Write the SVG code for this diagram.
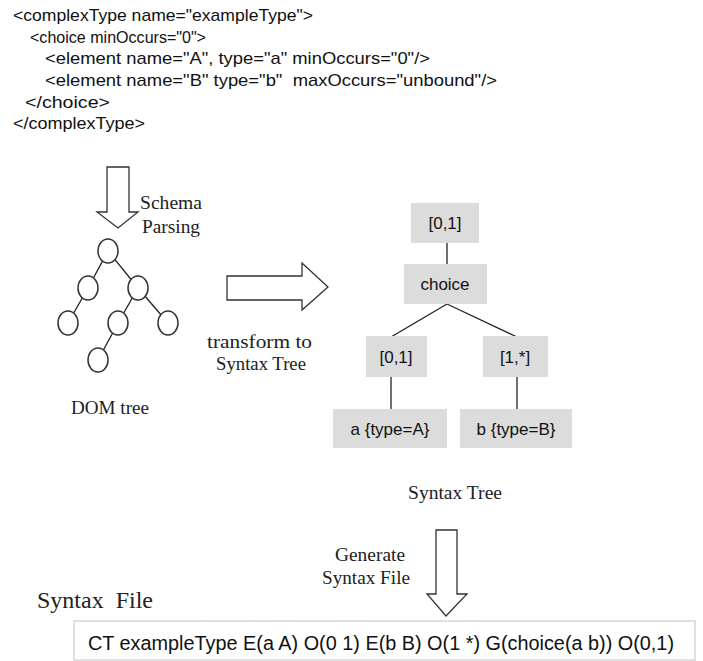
<svg xmlns="http://www.w3.org/2000/svg" width="703" height="661" viewBox="0 0 703 661">
<style>
.code{font-family:"Liberation Sans",Arial,sans-serif;font-size:17px;fill:#111}
.ser{font-family:"Liberation Serif","Times New Roman",serif;font-size:18px;fill:#222}
.box{fill:#dcdcdc}
.bt{font-family:"Liberation Sans",Arial,sans-serif;font-size:17px;fill:#111;text-anchor:middle}
.ln{stroke:#222;stroke-width:1.3;fill:none}
.arr{fill:#fff;stroke:#333;stroke-width:1.3}
.circ{fill:#fff;stroke:#333;stroke-width:1.5}
</style>
<rect width="703" height="661" fill="#fff"/>
<g id="schema-code">
<text class="code" x="13" y="21" textLength="300" lengthAdjust="spacingAndGlyphs">&lt;complexType name="exampleType"&gt;</text>
<text class="code" x="30" y="43" textLength="176" lengthAdjust="spacingAndGlyphs">&lt;choice minOccurs="0"&gt;</text>
<text class="code" x="45" y="64" textLength="385" lengthAdjust="spacingAndGlyphs">&lt;element name="A", type="a" minOccurs="0"/&gt;</text>
<text class="code" x="45" y="86" textLength="452" lengthAdjust="spacingAndGlyphs" xml:space="preserve">&lt;element name="B" type="b"  maxOccurs="unbound"/&gt;</text>
<text class="code" x="25" y="108" textLength="85" lengthAdjust="spacingAndGlyphs">&lt;/choice&gt;</text>
<text class="code" x="13" y="129" textLength="132" lengthAdjust="spacingAndGlyphs">&lt;/complexType&gt;</text>
</g>
<g id="arrow-parse">
<polygon class="arr" points="107,167 129,167 129,212 138,212 118,228 97,212 107,212"/>
<text class="ser" x="140" y="209" textLength="62" lengthAdjust="spacingAndGlyphs">Schema</text>
<text class="ser" x="142" y="233" textLength="58" lengthAdjust="spacingAndGlyphs">Parsing</text>
</g>
<g id="dom-tree">
<g class="ln">
<line x1="108" y1="251" x2="88" y2="288"/>
<line x1="108" y1="251" x2="138" y2="288"/>
<line x1="88" y1="288" x2="68" y2="323"/>
<line x1="138" y1="288" x2="118" y2="323"/>
<line x1="138" y1="288" x2="168" y2="323"/>
<line x1="118" y1="323" x2="98" y2="360"/>
</g>
<ellipse class="circ" cx="108" cy="251" rx="10" ry="12"/>
<ellipse class="circ" cx="88" cy="288" rx="10" ry="12"/>
<ellipse class="circ" cx="138" cy="288" rx="10" ry="12"/>
<ellipse class="circ" cx="68" cy="323" rx="10" ry="12"/>
<ellipse class="circ" cx="118" cy="323" rx="10" ry="12"/>
<ellipse class="circ" cx="168" cy="323" rx="10" ry="12"/>
<ellipse class="circ" cx="98" cy="360" rx="10" ry="12"/>
<text class="ser" x="71" y="414" textLength="78" lengthAdjust="spacingAndGlyphs">DOM tree</text>
</g>
<g id="arrow-transform">
<polygon class="arr" points="227,276 302,276 302,263 328,287 302,310 302,300 227,300"/>
<text class="ser" x="207" y="348" textLength="105" lengthAdjust="spacingAndGlyphs">transform to</text>
<text class="ser" x="216" y="370" textLength="90" lengthAdjust="spacingAndGlyphs">Syntax Tree</text>
</g>
<g id="connectors">
<line class="ln" x1="447" y1="243" x2="447" y2="264"/>
<line class="ln" x1="447" y1="304" x2="391" y2="337"/>
<line class="ln" x1="447" y1="304" x2="517" y2="337"/>
<line class="ln" x1="391" y1="377" x2="391" y2="409"/>
<line class="ln" x1="517" y1="377" x2="517" y2="409"/>
</g>
<g id="node-root">
<rect class="box" x="411" y="203" width="68" height="40"/>
<text class="bt" x="445" y="229">[0,1]</text>
</g>
<g id="node-choice">
<rect class="box" x="404" y="264" width="83" height="40"/>
<text class="bt" x="445" y="290">choice</text>
</g>
<g id="node-occ-a">
<rect class="box" x="366" y="336" width="61" height="41"/>
<text class="bt" x="396" y="363">[0,1]</text>
</g>
<g id="node-occ-b">
<rect class="box" x="483" y="336" width="65" height="41"/>
<text class="bt" x="515" y="363">[1,*]</text>
</g>
<g id="node-a">
<rect class="box" x="333" y="409" width="114" height="39"/>
<text class="bt" x="390" y="435">a {type=A}</text>
</g>
<g id="node-b">
<rect class="box" x="460" y="409" width="112" height="39"/>
<text class="bt" x="516" y="435">b {type=B}</text>
</g>
<text class="ser" x="408" y="499" textLength="94" lengthAdjust="spacingAndGlyphs">Syntax Tree</text>
<g id="arrow-generate">
<polygon class="arr" points="436,530 457,530 457,594 467,594 446,616 427,594 436,594"/>
<text class="ser" x="335" y="561" textLength="70" lengthAdjust="spacingAndGlyphs">Generate</text>
<text class="ser" x="322" y="584" textLength="88" lengthAdjust="spacingAndGlyphs">Syntax File</text>
</g>
<g id="syntax-file">
<text class="ser" x="37" y="608" style="font-size:24px" textLength="116" lengthAdjust="spacingAndGlyphs" xml:space="preserve">Syntax  File</text>
<rect x="74" y="621" width="621" height="39" fill="#fff" stroke="#d6d6d6" stroke-width="1.5"/>
<text class="code" x="88" y="650" style="font-size:20px" textLength="586" lengthAdjust="spacingAndGlyphs">CT exampleType E(a A) O(0 1) E(b B) O(1 *) G(choice(a b)) O(0,1)</text>
</g>
</svg>
